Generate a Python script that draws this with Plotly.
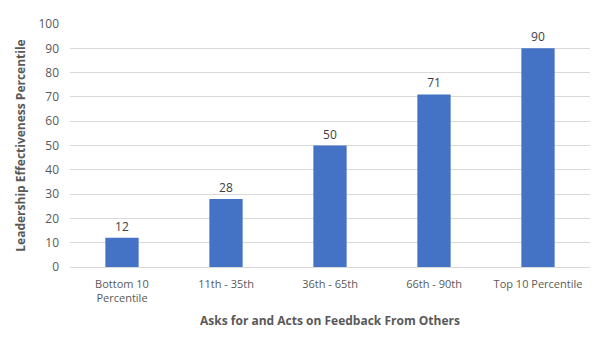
import plotly.graph_objects as go

categories = ["Bottom 10<br>Percentile", "11th - 35th", "36th - 65th", "66th - 90th", "Top 10 Percentile"]
values = [12, 28, 50, 71, 90]
y_ticks = [0, 10, 20, 30, 40, 50, 60, 70, 80, 90, 100]

font_family = "Open Sans, Liberation Sans, sans-serif"
text_gray = "#595959"

fig = go.Figure(
    go.Bar(
        x=categories,
        y=values,
        marker=dict(color="#4472C4", line=dict(width=0)),
        text=[str(v) for v in values],
        textposition="outside",
        textfont=dict(size=12, color="#404040", family=font_family),
        cliponaxis=False,
    )
)

fig.update_layout(
    width=600,
    height=348,
    margin=dict(l=70, r=10, t=24, b=81),
    paper_bgcolor="white",
    plot_bgcolor="white",
    bargap=0.68,
    showlegend=False,
    font=dict(family=font_family, color=text_gray, size=11),
)

fig.update_xaxes(
    title=dict(text="<b>Asks for and Acts on Feedback From Others</b>",
               font=dict(size=12, color=text_gray), standoff=12),
    tickfont=dict(size=11, color=text_gray),
    ticklabelstandoff=9,
    showgrid=False,
    showline=False,
    ticks="",
)

fig.update_yaxes(
    title=dict(text="<b>Leadership Effectiveness Percentile</b>",
               font=dict(size=12, color=text_gray), standoff=10),
    range=[0, 100],
    tickvals=y_ticks,
    tickfont=dict(size=12, color=text_gray),
    ticklabelstandoff=10,
    showgrid=True,
    gridcolor="#D9D9D9",
    gridwidth=1,
    zeroline=True,
    zerolinecolor="#D9D9D9",
    zerolinewidth=1,
    ticks="",
    ticklen=0,
)

fig.write_html("out.html")
